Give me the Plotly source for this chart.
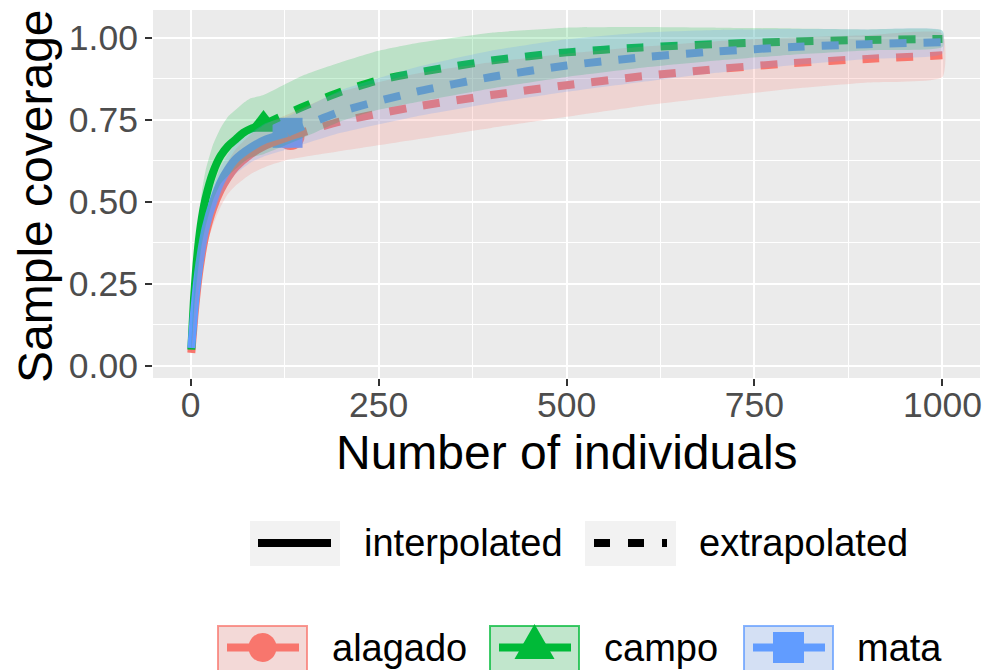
import plotly.graph_objects as go

# ---------------- data ----------------
sites = ["alagado", "campo", "mata"]
colors = {"alagado": "#F8766D", "campo": "#00BA38", "mata": "#619CFF"}
rgb = {"alagado": (248, 118, 109), "campo": (0, 186, 56), "mata": (97, 156, 255)}
symbols = {"alagado": "circle", "campo": "triangle-up", "mata": "square"}
msize = {"alagado": 28, "campo": 29, "mata": 30}

# observed reference sample (size, coverage)
obs_x = {"alagado": 133, "campo": 97, "mata": 129}
obs_y = {"alagado": 0.70, "campo": 0.735, "mata": 0.71}

# interpolated
int_x = {
    "alagado": [1, 5, 10, 15, 20, 30, 40, 50, 60, 80, 100, 133],
    "campo": [1, 5, 10, 15, 20, 30, 40, 50, 60, 70, 80, 97],
    "mata": [1, 5, 10, 15, 20, 30, 40, 50, 60, 80, 100, 129],
}
int_y = {
    "alagado": [0.04, 0.15, 0.26, 0.34, 0.40, 0.48, 0.535, 0.575, 0.605, 0.645, 0.672, 0.70],
    "campo": [0.05, 0.22, 0.36, 0.45, 0.51, 0.59, 0.64, 0.67, 0.69, 0.71, 0.722, 0.735],
    "mata": [0.055, 0.17, 0.28, 0.36, 0.42, 0.50, 0.56, 0.60, 0.63, 0.665, 0.69, 0.71],
}
int_lo = {
    "alagado": [0.035, 0.12, 0.22, 0.295, 0.355, 0.43, 0.485, 0.525, 0.55, 0.585, 0.607, 0.63],
    "campo": [0.04, 0.18, 0.29, 0.37, 0.425, 0.505, 0.555, 0.58, 0.60, 0.62, 0.635, 0.645],
    "mata": [0.05, 0.14, 0.24, 0.315, 0.375, 0.455, 0.515, 0.555, 0.585, 0.62, 0.64, 0.66],
}
int_hi = {
    "alagado": [0.045, 0.18, 0.30, 0.385, 0.445, 0.53, 0.585, 0.625, 0.66, 0.705, 0.737, 0.77],
    "campo": [0.06, 0.26, 0.43, 0.53, 0.595, 0.675, 0.725, 0.76, 0.78, 0.80, 0.815, 0.825],
    "mata": [0.06, 0.20, 0.32, 0.405, 0.465, 0.545, 0.605, 0.645, 0.675, 0.71, 0.74, 0.76],
}

# extrapolated
ext_x = {
    "alagado": [133, 200, 300, 400, 500, 600, 700, 800, 900, 1000],
    "campo": [97, 150, 200, 250, 300, 400, 500, 600, 700, 800, 900, 1000],
    "mata": [129, 200, 300, 400, 500, 600, 700, 800, 900, 1000],
}
ext_y = {
    "alagado": [0.70, 0.745, 0.79, 0.825, 0.855, 0.882, 0.904, 0.922, 0.935, 0.946],
    "campo": [0.735, 0.79, 0.835, 0.87, 0.893, 0.93, 0.955, 0.97, 0.98, 0.988, 0.993, 0.996],
    "mata": [0.71, 0.775, 0.835, 0.88, 0.915, 0.94, 0.958, 0.971, 0.98, 0.986],
}
ext_lo = {
    "alagado": [0.63, 0.655, 0.69, 0.725, 0.759, 0.792, 0.819, 0.844, 0.863, 0.88],
    "campo": [0.645, 0.695, 0.745, 0.78, 0.803, 0.845, 0.88, 0.908, 0.93, 0.948, 0.961, 0.971],
    "mata": [0.66, 0.71, 0.76, 0.80, 0.835, 0.865, 0.893, 0.916, 0.935, 0.951],
}
ext_hi = {
    "alagado": [0.77, 0.835, 0.89, 0.925, 0.951, 0.972, 0.989, 1.0, 1.007, 1.012],
    "campo": [0.825, 0.885, 0.925, 0.96, 0.983, 1.015, 1.03, 1.032, 1.03, 1.028, 1.025, 1.021],
    "mata": [0.76, 0.84, 0.91, 0.96, 0.995, 1.015, 1.023, 1.026, 1.025, 1.021],
}

x_ticks = [0, 250, 500, 750, 1000]
x_ticklabels = ["0", "250", "500", "750", "1000"]
y_ticks = [0, 0.25, 0.5, 0.75, 1.0]
y_ticklabels = ["0.00", "0.25", "0.50", "0.75", "1.00"]

FONT = "Liberation Sans, Arial, Helvetica, sans-serif"


def rgba(s, a):
    r, g, b = rgb[s]
    return f"rgba({r},{g},{b},{a})"


fig = go.Figure()

# points first (ggplot draws them underneath)
for s in sites:
    fig.add_trace(go.Scatter(
        x=[obs_x[s]], y=[obs_y[s]], mode="markers",
        marker=dict(symbol=symbols[s], size=msize[s], color=colors[s], line=dict(width=0)),
        showlegend=False, hoverinfo="skip"))

# lines
for s in sites:
    fig.add_trace(go.Scatter(
        x=int_x[s], y=int_y[s], mode="lines",
        line=dict(color=colors[s], width=8, shape="spline", smoothing=0.6),
        showlegend=False))
    fig.add_trace(go.Scatter(
        x=ext_x[s], y=ext_y[s], mode="lines",
        line=dict(color=colors[s], width=8, dash="17px,17px", shape="spline", smoothing=0.6),
        showlegend=False))

# ribbons on top
for s in sites:
    xs = int_x[s] + ext_x[s][1:]
    hi = int_hi[s] + ext_hi[s][1:]
    lo = int_lo[s] + ext_lo[s][1:]
    fig.add_trace(go.Scatter(
        x=xs + xs[::-1], y=hi + lo[::-1], mode="lines", fill="toself",
        fillcolor=rgba(s, 0.2), line=dict(width=0, color="rgba(0,0,0,0)", shape="spline", smoothing=0.5),
        showlegend=False, hoverinfo="skip"))

# ---------------- layout ----------------
L, R, T, B = 153, 980, 10, 378


def px(x):
    return (x - L) / (R - L)


def py(y):
    return (B - y) / (B - T)


shapes = []
annotations = []
LEG = 38

# legend row 1: line type
shapes.append(dict(type="rect", xref="paper", yref="paper", x0=px(250), x1=px(340), y0=py(566), y1=py(521),
                   fillcolor="#F2F2F2", line=dict(width=0), layer="above"))
shapes.append(dict(type="line", xref="paper", yref="paper", x0=px(258), x1=px(331), y0=py(543), y1=py(543),
                   line=dict(color="black", width=8)))
shapes.append(dict(type="rect", xref="paper", yref="paper", x0=px(585), x1=px(676), y0=py(566), y1=py(521),
                   fillcolor="#F2F2F2", line=dict(width=0), layer="above"))
shapes.append(dict(type="line", xref="paper", yref="paper", x0=px(594), x1=px(667), y0=py(543), y1=py(543),
                   line=dict(color="black", width=8, dash="16px,18px")))
annotations.append(dict(text="interpolated", x=px(362), y=py(543), xref="paper", yref="paper",
                        xanchor="left", yanchor="middle", showarrow=False,
                        font=dict(family=FONT, size=LEG, color="black")))
annotations.append(dict(text="extrapolated", x=px(697), y=py(543), xref="paper", yref="paper",
                        xanchor="left", yanchor="middle", showarrow=False,
                        font=dict(family=FONT, size=LEG, color="black")))

# legend row 2: sites
boxes = {"alagado": 218, "campo": 490, "mata": 744}
text_x = {"alagado": 330, "campo": 602, "mata": 855}
yc = 647.5
for s in sites:
    bx = boxes[s]
    shapes.append(dict(type="rect", xref="paper", yref="paper", x0=px(bx), x1=px(bx + 89),
                       y0=py(671), y1=py(626), fillcolor="#F2F2F2", line=dict(width=0)))
    shapes.append(dict(type="rect", xref="paper", yref="paper", x0=px(bx), x1=px(bx + 89),
                       y0=py(671), y1=py(626), fillcolor=rgba(s, 0.2),
                       line=dict(color=rgba(s, 0.75), width=2)))
    shapes.append(dict(type="line", xref="paper", yref="paper", x0=px(bx + 9), x1=px(bx + 81),
                       y0=py(yc), y1=py(yc), line=dict(color=colors[s], width=8)))
    cx = bx + 44.5
    if s == "alagado":
        shapes.append(dict(type="circle", xref="paper", yref="paper", x0=px(cx - 14), x1=px(cx + 14),
                           y0=py(yc + 14.5), y1=py(yc - 14.5), fillcolor=colors[s], line=dict(width=0)))
    elif s == "campo":
        path = (f"M {px(cx - 20)} {py(659)} L {px(cx + 20)} {py(659)} L {px(cx)} {py(624)} Z")
        shapes.append(dict(type="path", xref="paper", yref="paper", path=path,
                           fillcolor=colors[s], line=dict(width=0)))
    else:
        shapes.append(dict(type="rect", xref="paper", yref="paper", x0=px(cx - 15.5), x1=px(cx + 15.5),
                           y0=py(663), y1=py(632), fillcolor=colors[s], line=dict(width=0)))
    annotations.append(dict(text=s, x=px(text_x[s]), y=py(yc), xref="paper", yref="paper",
                            xanchor="left", yanchor="middle", showarrow=False,
                            font=dict(family=FONT, size=LEG, color="black")))

# axis titles
annotations.append(dict(text="Number of individuals", x=px(567), y=py(452), xref="paper", yref="paper",
                        xanchor="center", yanchor="middle", showarrow=False,
                        font=dict(family=FONT, size=48, color="black")))
annotations.append(dict(text="Sample coverage", x=px(35), y=py(196), xref="paper", yref="paper",
                        xanchor="center", yanchor="middle", showarrow=False, textangle=-90,
                        font=dict(family=FONT, size=48, color="black")))

fig.update_layout(
    width=987, height=670,
    margin=dict(l=L, r=987 - R, t=T, b=670 - B, autoexpand=False),
    paper_bgcolor="white", plot_bgcolor="#EBEBEB",
    font=dict(family=FONT),
    shapes=shapes, annotations=annotations,
    showlegend=False,
)
fig.update_xaxes(
    range=[-49.95, 1049.95], tickmode="array", tickvals=x_ticks, ticktext=x_ticklabels,
    automargin=False, ticklabelstandoff=-12,
    showgrid=True, gridcolor="white", gridwidth=2.2, zeroline=False, showline=False,
    ticks="outside", ticklen=7, tickwidth=2, tickcolor="#333333",
    tickfont=dict(family=FONT, size=35.5, color="#4D4D4D"),
    minor=dict(tickmode="array", tickvals=[125, 375, 625, 875], showgrid=True, gridcolor="white", gridwidth=1.2),
)
fig.update_yaxes(
    range=[-0.0365, 1.084], tickmode="array", tickvals=y_ticks, ticktext=y_ticklabels,
    automargin=False,
    showgrid=True, gridcolor="white", gridwidth=2.2, zeroline=False, showline=False,
    ticks="outside", ticklen=7, tickwidth=2, tickcolor="#333333",
    tickfont=dict(family=FONT, size=35.5, color="#4D4D4D"),
    minor=dict(tickmode="array", tickvals=[0.125, 0.375, 0.625, 0.875], showgrid=True, gridcolor="white", gridwidth=1.2),
)

fig.write_html("out.html", config={"displayModeBar": False},
               post_script="document.body.style.margin='0px';document.body.style.overflow='hidden';")
